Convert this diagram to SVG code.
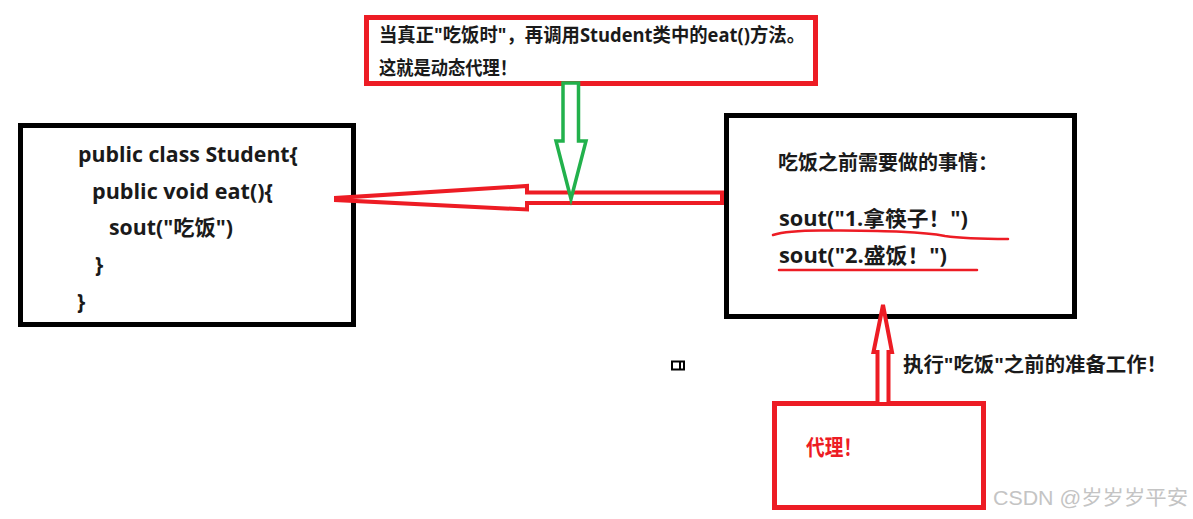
<svg xmlns="http://www.w3.org/2000/svg" width="1193" height="519" viewBox="0 0 1193 519">
<style>
.t{font-family:"Open Sans","Noto Sans CJK SC",sans-serif;font-weight:bold;fill:#1a1a1a}
.bk{fill:#fff;stroke:#000;stroke-width:5}
.rd{fill:#fff;stroke:#ed1c24;stroke-width:5}
.ra{fill:#fff;stroke:#ed1c24;stroke-width:4;stroke-linejoin:miter}
.ga{fill:#fff;stroke:#22b14c;stroke-width:3.5}
.ul{fill:none;stroke:#ed1c24;stroke-width:2.5;stroke-linecap:round}
</style>
<rect width="1193" height="519" fill="#fff"/>
<g id="student">
<rect class="bk" x="20.5" y="125.5" width="333" height="199"/>
<text class="t" font-size="21" x="78" y="162" textLength="220" lengthAdjust="spacingAndGlyphs">public class Student{</text>
<text class="t" font-size="21" x="92" y="199" textLength="181" lengthAdjust="spacingAndGlyphs">public void eat(){</text>
<text class="t" font-size="21" x="109" y="235" textLength="124" lengthAdjust="spacingAndGlyphs">sout("吃饭")</text>
<text class="t" font-size="21" x="95" y="272">}</text>
<text class="t" font-size="21" x="77" y="309">}</text>
</g>
<g id="note">
<rect class="rd" x="366.5" y="17.5" width="449" height="66"/>
<text class="t" font-size="19" x="379" y="42" textLength="426" lengthAdjust="spacingAndGlyphs">当真正"吃饭时"，再调用Student类中的eat()方法。</text>
<text class="t" font-size="19" x="379" y="75" textLength="138" lengthAdjust="spacingAndGlyphs">这就是动态代理！</text>
</g>
<g id="before">
<rect class="bk" x="726.5" y="115.5" width="348" height="201"/>
<text class="t" font-size="20" x="778" y="170" textLength="220" lengthAdjust="spacingAndGlyphs">吃饭之前需要做的事情：</text>
<text class="t" font-size="21" x="779" y="226" textLength="189" lengthAdjust="spacingAndGlyphs">sout("1.拿筷子！")</text>
<text class="t" font-size="21" x="779" y="263" textLength="168" lengthAdjust="spacingAndGlyphs">sout("2.盛饭！")</text>
<path class="ul" d="M773,235 C785,231 800,230 830,230.5 C880,231 920,231 945,236 C965,239 990,239 1008,239"/>
<path class="ul" d="M779,270 L977,270"/>
</g>
<g id="proxy">
<rect class="rd" x="774.5" y="403.5" width="209" height="104"/>
<text font-family="Open Sans,Noto Sans CJK SC,sans-serif" font-weight="bold" font-size="22" fill="#ed1c24" x="806" y="455" textLength="56" lengthAdjust="spacingAndGlyphs">代理！</text>
</g>
<g id="connectors">
<path class="ra" d="M722,192.5 L527,192.5 L527,186 L336,198 L336,200 L527,209.5 L527,203 L722,203 Z"/>
<path class="ga" d="M563,83 L578.5,83 L578.5,141 L586,141 L571,199 L556,141 L563,141 Z"/>
<path class="ra" stroke-width="3.5" d="M877.5,402 L877.5,352 L873.5,352 L883,305 L892,352 L888.5,352 L888.5,402"/>
<text class="t" font-size="20" x="903" y="372" textLength="264" lengthAdjust="spacingAndGlyphs">执行"吃饭"之前的准备工作！</text>
</g>
<g id="icon">
<rect x="672" y="361.5" width="12" height="8" fill="#fff" stroke="#000" stroke-width="2"/>
<rect x="679" y="362" width="2" height="7" fill="#000"/>
</g>
<text font-family="Liberation Sans,Noto Sans CJK SC,sans-serif" font-size="20" fill="#c4c4c4" x="993" y="505" textLength="195" lengthAdjust="spacingAndGlyphs">CSDN @岁岁岁平安</text>
</svg>
